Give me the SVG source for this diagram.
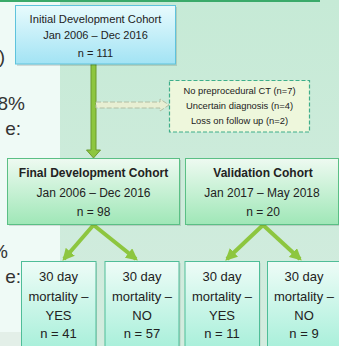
<svg xmlns="http://www.w3.org/2000/svg" width="339" height="346" viewBox="0 0 339 346">
<defs>
<linearGradient id="gBg" x1="0" y1="0" x2="0" y2="1"><stop offset="0" stop-color="#c6ead6"/><stop offset="1" stop-color="#d3ecdf"/></linearGradient>
<linearGradient id="gInit" x1="0" y1="0" x2="0" y2="1"><stop offset="0" stop-color="#e8fbfd"/><stop offset="1" stop-color="#a2e3f4"/></linearGradient>
<linearGradient id="gCoh" x1="0" y1="0" x2="0" y2="1"><stop offset="0" stop-color="#eefaf1"/><stop offset="1" stop-color="#9fe7b7"/></linearGradient>
<linearGradient id="gOut" x1="0" y1="0" x2="0" y2="1"><stop offset="0" stop-color="#eefcf7"/><stop offset="1" stop-color="#a6efd9"/></linearGradient>
<marker id="ah" viewBox="0 0 10 10" refX="8" refY="5" markerWidth="3" markerHeight="3" orient="auto" markerUnits="strokeWidth">
<path d="M0,0 L10,5 L0,10 z" fill="#8dc63f"/>
</marker>
<style>
.t{font-family:"Liberation Sans",Arial,sans-serif;fill:#222;text-anchor:middle}
.side{font-family:"Liberation Sans",Arial,sans-serif;fill:#333;font-size:19px;text-anchor:end}
.shadow{fill:#000;opacity:0.12}
.init{fill:url(#gInit);stroke:#5ec3dc;stroke-width:1}
.coh{fill:url(#gCoh);stroke:#5bbf85;stroke-width:1}
.out{fill:url(#gOut);stroke:#4fbd98;stroke-width:1}
.br{stroke:#8dc63f;stroke-width:4;fill:none;marker-end:url(#ah)}
</style>
</defs>
<rect x="0" y="0" width="339" height="346" fill="url(#gBg)"/>
<rect x="0" y="0" width="60" height="332" fill="#effaf6"/>
<rect x="0" y="332" width="60" height="14" fill="#e3efe8"/>
<rect x="0" y="0" width="320" height="2" fill="#3aaa6a"/>
<text class="side" x="5" y="63">)</text>
<text class="side" x="25" y="110">8%</text>
<text class="side" x="21" y="135">e:</text>
<text class="side" x="8" y="258">%</text>
<text class="side" x="21" y="283">e:</text>
<g id="connectors">
<path d="M91,64 L96,64 L96,150 L100.5,150 L93.5,158 L86.5,150 L91,150 Z" fill="#8dc63f" stroke="#6b9a2e" stroke-width="1"/>
<path d="M96,102 L160,102 L160,99 L169,105 L160,111 L160,108 L96,108 Z" fill="#e8efd3" stroke="#b2bea4" stroke-width="1" stroke-dasharray="5,2"/>
<line class="br" x1="93.5" y1="225" x2="64" y2="259"/>
<line class="br" x1="93.5" y1="225" x2="136" y2="259"/>
<line class="br" x1="263" y1="225" x2="227" y2="259"/>
<line class="br" x1="263" y1="225" x2="300" y2="259"/>
</g>
<g id="initial">
<rect class="shadow" x="17" y="7" width="160" height="59"/>
<rect class="init" x="15.5" y="5.5" width="160" height="58.5"/>
<text class="t" x="95.5" y="22.5" font-size="11.2">Initial Development Cohort</text>
<text class="t" x="95.5" y="39" font-size="11">Jan 2006 – Dec 2016</text>
<text class="t" x="95.5" y="56.5" font-size="11">n = 111</text>
</g>
<g id="excluded">
<rect x="169.5" y="80.5" width="140" height="51.5" fill="#eef7dc" stroke="#3fae8a" stroke-width="1.2" stroke-dasharray="4,2"/>
<text class="t" x="239.5" y="94" font-size="9.4">No preprocedural CT (n=7)</text>
<text class="t" x="239.5" y="109" font-size="9.4">Uncertain diagnosis (n=4)</text>
<text class="t" x="239.5" y="124" font-size="9.4">Loss on follow up (n=2)</text>
</g>
<g id="final">
<rect class="shadow" x="9" y="160" width="172" height="66"/>
<rect class="coh" x="7.5" y="158.5" width="172" height="66"/>
<text class="t" x="93.5" y="177" font-size="12" font-weight="bold">Final Development Cohort</text>
<text class="t" x="93.5" y="196.5" font-size="12">Jan 2006 – Dec 2016</text>
<text class="t" x="93.5" y="215.5" font-size="12">n = 98</text>
</g>
<g id="validation">
<rect class="shadow" x="187" y="160" width="153" height="66"/>
<rect class="coh" x="185.5" y="158.5" width="153" height="66"/>
<text class="t" x="263" y="177" font-size="12" font-weight="bold">Validation Cohort</text>
<text class="t" x="262" y="196.5" font-size="12">Jan 2017 – May 2018</text>
<text class="t" x="263" y="215.5" font-size="12">n = 20</text>
</g>
<g id="dev-yes">
<rect class="shadow" x="23" y="263" width="74" height="90"/>
<rect class="out" x="21.5" y="261.5" width="74.5" height="90"/>
<text class="t" x="58.5" y="280.5" font-size="13">30 day</text>
<text class="t" x="58.5" y="301" font-size="13">mortality –</text>
<text class="t" x="58.5" y="319.5" font-size="13">YES</text>
<text class="t" x="58.5" y="338" font-size="13">n = 41</text>
</g>
<g id="dev-no">
<rect class="shadow" x="106.5" y="263" width="74" height="90"/>
<rect class="out" x="105" y="261.5" width="74" height="90"/>
<text class="t" x="142" y="280.5" font-size="13">30 day</text>
<text class="t" x="142" y="301" font-size="13">mortality –</text>
<text class="t" x="142" y="319.5" font-size="13">NO</text>
<text class="t" x="142" y="338" font-size="13">n = 57</text>
</g>
<g id="val-yes">
<rect class="shadow" x="186.5" y="263" width="74" height="90"/>
<rect class="out" x="185" y="261.5" width="74.5" height="90"/>
<text class="t" x="222" y="280.5" font-size="13">30 day</text>
<text class="t" x="222" y="301" font-size="13">mortality –</text>
<text class="t" x="222" y="319.5" font-size="13">YES</text>
<text class="t" x="222" y="338" font-size="13">n = 11</text>
</g>
<g id="val-no">
<rect class="shadow" x="269" y="263" width="74" height="90"/>
<rect class="out" x="267.5" y="261.5" width="74" height="90"/>
<text class="t" x="304" y="280.5" font-size="13">30 day</text>
<text class="t" x="304" y="301" font-size="13">mortality –</text>
<text class="t" x="304" y="319.5" font-size="13">NO</text>
<text class="t" x="304" y="338" font-size="13">n = 9</text>
</g>
</svg>
